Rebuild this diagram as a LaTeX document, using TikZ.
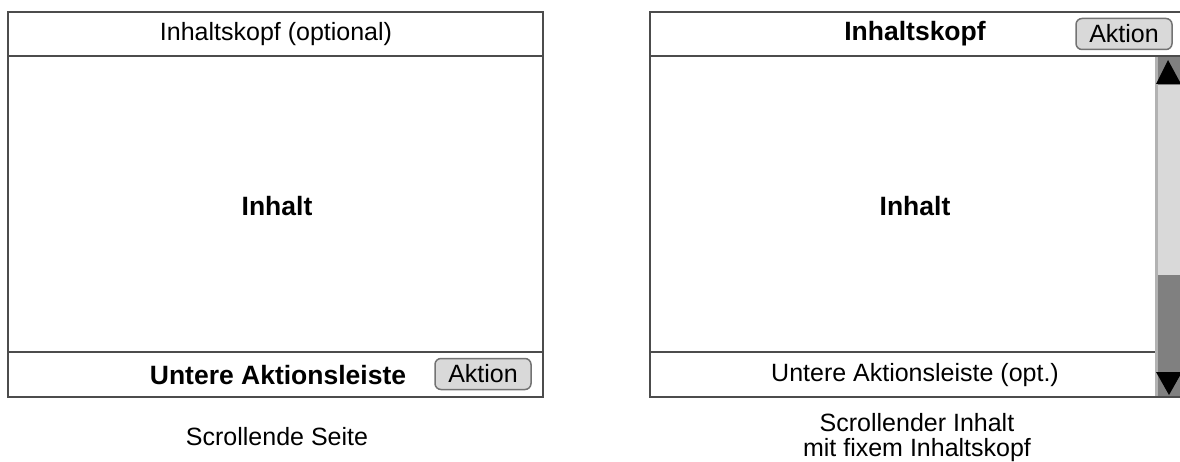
\documentclass[tikz,border=0pt]{standalone}
\usepackage{fontspec}
\setmainfont{Liberation Sans}
\tikzset{
  frame/.style={draw=black!70, line width=2pt},
  button/.style={draw=black!55, fill=black!15, rounded corners=6pt, line width=1.5pt,
    minimum width=96pt, minimum height=31pt},
  txt/.style={font=\fontsize{25}{22}\selectfont, inner sep=0pt},
  btxt/.style={font=\fontsize{26.5}{22}\selectfont\bfseries, inner sep=0pt},
}
\begin{document}
\begin{tikzpicture}[x=1pt,y=-1pt]
\useasboundingbox (0,0) rectangle (1180,462);
% scrollende Seite
\draw[frame] (8,12) rectangle (543,397);
\draw[frame] (8,56)--(543,56);
\draw[frame] (8,352)--(543,352);
\node[txt] (kopfL) at (276,34) {Inhaltskopf (optional)};
\node[btxt] (inhaltL) at (277,206) {Inhalt};
\node[btxt] (leisteL) at (278,375) {Untere Aktionsleiste};
\node[txt,button] (aktionL) at (483,374) {Aktion};
\node[txt] (titelL) at (277,437) {Scrollende Seite};
% scrollender Inhalt
\fill[black!15] (1155,57) rectangle (1183,397);
\fill[black!50] (1155,57) rectangle (1183,85);
\fill[black!50] (1155,275) rectangle (1183,397);
\fill[black!30] (1155,57) rectangle (1158,397);
\fill (1156,84) -- (1168,60) -- (1181,84) -- cycle;
\fill (1156,372) -- (1169,395) -- (1182,372) -- cycle;
\draw[frame] (650,12) rectangle (1183,397);
\draw[frame] (650,56)--(1183,56);
\draw[frame] (650,352)--(1155,352);
\node[btxt] (kopfR) at (915,34) {Inhaltskopf};
\node[btxt] (inhaltR) at (915,206) {Inhalt};
\node[txt] (leisteR) at (915,375) {Untere Aktionsleiste (opt.)};
\node[txt,button] (aktionR) at (1124,34) {Aktion};
\node[txt,anchor=base] (titelR) at (917,431) {Scrollender Inhalt};
\node[txt,anchor=base] (titelRb) at (917,456) {mit fixem Inhaltskopf};
\end{tikzpicture}
\end{document}
